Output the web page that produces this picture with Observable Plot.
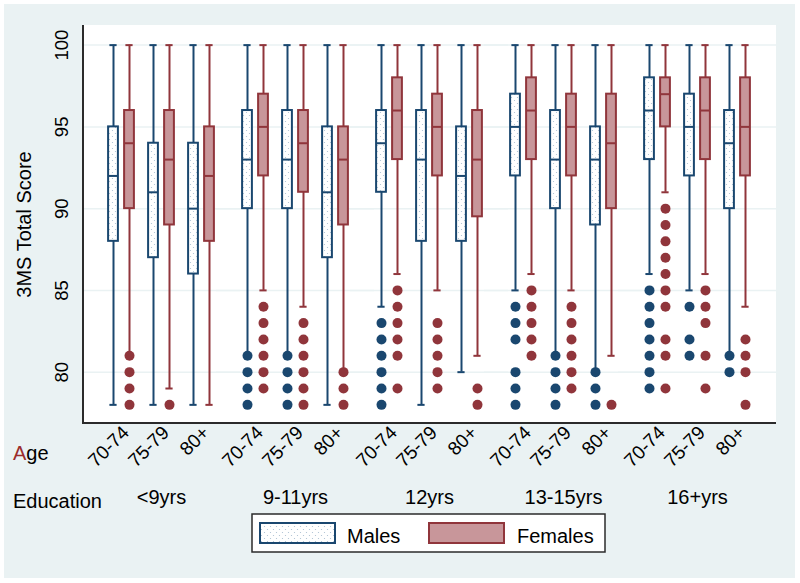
<!DOCTYPE html>
<html><head><meta charset="utf-8">
<script src="https://cdn.jsdelivr.net/npm/d3@7"></script>
<script src="https://cdn.jsdelivr.net/npm/@observablehq/plot@0.6"></script>
<style>
body{margin:0;background:#fff;}
#wrap{position:relative;width:800px;height:583px;background:#fff;overflow:hidden;font-family:"Liberation Sans",Arial,sans-serif;color:#000;}
#bg{position:absolute;left:4px;top:4px;width:791px;height:574px;background:#eaf2f3;}
#plotbg{position:absolute;left:82px;top:25px;width:694px;height:398px;background:#fff;}
#chart{position:absolute;left:0;top:0;}
.axline{position:absolute;background:#2b2b2b;}
.lab{position:absolute;font-size:20px;line-height:20px;white-space:nowrap;}
#legend{position:absolute;left:251px;top:513px;}
</style></head>
<body>
<div id="wrap">
  <div id="bg"></div>
  <div id="plotbg"></div>
  <div id="chart"></div>
  <div class="axline" style="left:81.5px;top:25px;width:2px;height:399.3px"></div>
  <div class="axline" style="left:81.5px;top:422.3px;width:694.5px;height:2px"></div>
  <div class="lab" style="left:13px;top:443px"><span style="color:#9b2d2d">A</span>ge</div>
  <div class="lab" style="left:13px;top:491px">Education</div>
  <svg id="legend" width="356" height="41">
    <defs>
      <pattern id="legDots" width="6" height="6" patternUnits="userSpaceOnUse">
        <rect width="6" height="6" fill="#fff"></rect>
        <circle cx="1.5" cy="1.5" r="0.6" fill="#a9bed1"></circle>
        <circle cx="4.5" cy="4.5" r="0.6" fill="#a9bed1"></circle>
      </pattern>
    </defs>
    <rect x="1" y="1" width="353" height="38" fill="#fff" stroke="#2b2b2b" stroke-width="1.5"></rect>
    <rect x="9" y="10" width="75" height="20" fill="url(#legDots)" stroke="#1a476f" stroke-width="2"></rect>
    <text x="96" y="29.5" font-size="20" font-family="Liberation Sans, Arial, sans-serif">Males</text>
    <rect x="178" y="10" width="75" height="20" fill="#c8969a" stroke="#90353b" stroke-width="2"></rect>
    <text x="266" y="29.5" font-size="20" font-family="Liberation Sans, Arial, sans-serif">Females</text>
  </svg>
</div>
<script>
// ---- categories ----
const education = ["<9yrs", "9-11yrs", "12yrs", "13-15yrs", "16+yrs"];
const ages = ["70-74", "75-79", "80+"];
const yTicks = [80, 85, 90, 95, 100];

// ---- Males (15 groups: education x age) ----
const maleLow    = [78, 78, 78,  81, 81, 78,  84, 78, 80,  85, 81, 80,  86, 85, 81];
const maleQ1     = [88, 87, 86,  90, 90, 87,  91, 88, 88,  92, 90, 89,  93, 92, 90];
const maleMedian = [92, 91, 90,  93, 93, 91,  94, 93, 92,  95, 93, 93,  96, 95, 94];
const maleQ3     = [95, 94, 94,  96, 96, 95,  96, 96, 95,  97, 96, 95,  98, 97, 96];
const maleHigh   = [100,100,100, 100,100,100, 100,100,100, 100,100,100, 100,100,100];
const maleOutliers = [
  [], [], [],
  [81, 80, 79, 78], [81, 80, 79, 78], [],
  [83, 82, 81, 80, 79, 78], [], [],
  [84, 83, 82, 80, 79, 78], [81, 80, 79, 78], [80, 79, 78],
  [85, 84, 83, 82, 81, 80, 79], [84, 82, 81], [81, 80]
];

// ---- Females ----
const femaleLow    = [81, 79, 78,  85, 84, 80,  86, 85, 81,  86, 85, 81,  91, 86, 84];
const femaleQ1     = [90, 89, 88,  92, 91, 89,  93, 92, 89.5, 93, 92, 90, 95, 93, 92];
const femaleMedian = [94, 93, 92,  95, 94, 93,  96, 95, 93,  96, 95, 94,  97, 96, 95];
const femaleQ3     = [96, 96, 95,  97, 96, 95,  98, 97, 96,  98, 97, 97,  98, 98, 98];
const femaleHigh   = [100,100,100, 100,100,100, 100,100,100, 100,100,100, 100,100,100];
const femaleOutliers = [
  [81, 80, 79, 78], [78], [],
  [84, 83, 82, 81, 80, 79], [83, 82, 81, 80, 79, 78], [80, 79, 78],
  [85, 84, 83, 82, 81, 79], [83, 82, 81, 80, 79], [79, 78],
  [85, 84, 83, 82, 81], [84, 83, 82, 81, 80, 79], [78],
  [90, 89, 88, 87, 86, 85, 84, 82, 81, 79], [85, 84, 83, 81, 79], [82, 81, 80, 78]
];

const maleColor = "#1a476f", femaleColor = "#90353b", femaleFill = "#c8969a", maleFillKey = "#fffffe";

function statRows(lo, q1, med, q3, hi) {
  return education.flatMap((edu, i) => ages.map((age, j) => {
    const k = i * 3 + j;
    return {edu, age, lo: lo[k], q1: q1[k], med: med[k], q3: q3[k], hi: hi[k]};
  }));
}
function outlierRows(outs) {
  return education.flatMap((edu, i) => ages.flatMap((age, j) =>
    outs[i * 3 + j].map(value => ({edu, age, value}))));
}

const maleData = statRows(maleLow, maleQ1, maleMedian, maleQ3, maleHigh);
const femaleData = statRows(femaleLow, femaleQ1, femaleMedian, femaleQ3, femaleHigh);
const maleOut = outlierRows(maleOutliers);
const femaleOut = outlierRows(femaleOutliers);

function boxMarks(data, outs, color, fill, side) {
  const off = side * 8;
  const boxIn = side < 0 ? {insetLeft: 7.1, insetRight: 23.1} : {insetLeft: 23.1, insetRight: 7.1};
  const capIn = side < 0 ? {insetLeft: 8.4, insetRight: 24.4} : {insetLeft: 24.4, insetRight: 8.4};
  const sw = 2;
  return [
    Plot.ruleX(data, {fx: "edu", x: "age", y1: "q3", y2: "hi", dx: off, stroke: color, strokeWidth: sw}),
    Plot.ruleX(data, {fx: "edu", x: "age", y1: "lo", y2: "q1", dx: off, stroke: color, strokeWidth: sw}),
    Plot.tickY(data, {fx: "edu", x: "age", y: "hi", ...capIn, stroke: color, strokeWidth: sw}),
    Plot.tickY(data, {fx: "edu", x: "age", y: "lo", ...capIn, stroke: color, strokeWidth: sw}),
    Plot.barY(data, {fx: "edu", x: "age", y1: "q1", y2: "q3", ...boxIn, fill, stroke: color, strokeWidth: sw}),
    Plot.tickY(data, {fx: "edu", x: "age", y: "med", ...boxIn, stroke: color, strokeWidth: sw}),
    Plot.dot(outs, {fx: "edu", x: "age", y: "value", dx: off, r: 5, fill: color, stroke: null})
  ];
}

const chart = Plot.plot({
  width: 800,
  height: 583,
  marginLeft: 82,
  marginRight: 24,
  marginTop: 25,
  marginBottom: 160,
  style: {background: "transparent", fontFamily: "'Liberation Sans', Arial, sans-serif", overflow: "visible", color: "#000"},
  fx: {domain: education, paddingInner: 0, paddingOuter: 0.0847},
  x: {domain: ages, paddingInner: 0, paddingOuter: 0.145},
  y: {domain: [76.86, 101.2]},
  marks: [
    Plot.ruleY(yTicks, {stroke: "#eaf2f3", strokeWidth: 1.5, insetLeft: -12, insetRight: -12}),
    ...boxMarks(maleData, maleOut, maleColor, maleFillKey, -1),
    ...boxMarks(femaleData, femaleOut, femaleColor, femaleFill, 1),
    Plot.axisY({ticks: yTicks, tickSize: 0, tickRotate: -90, tickPadding: 26.5, fontSize: 18.5,
      label: "3MS Total Score", labelAnchor: "center", labelOffset: 77.5, labelArrow: "none"}),
    Plot.axisX({tickSize: 0, tickRotate: -45, tickPadding: 6, fontSize: 19, dx: 4.5, label: null}),
    Plot.axisFx({anchor: "bottom", tickSize: 0, tickPadding: 66, fontSize: 20, label: null})
  ]
});

// axis title slightly larger than the tick labels
chart.querySelectorAll('g[aria-label="y-axis label"]').forEach(g => {
  g.setAttribute("font-size", 20);
  g.querySelectorAll("text").forEach(t => t.setAttribute("font-size", 20));
});

// dotted fill pattern for the male boxes
const ns = "http://www.w3.org/2000/svg";
const defs = document.createElementNS(ns, "defs");
const pat = document.createElementNS(ns, "pattern");
pat.setAttribute("id", "maleDots");
pat.setAttribute("width", "6");
pat.setAttribute("height", "6");
pat.setAttribute("patternUnits", "userSpaceOnUse");
const pr = document.createElementNS(ns, "rect");
pr.setAttribute("width", "6"); pr.setAttribute("height", "6"); pr.setAttribute("fill", "#fff");
pat.appendChild(pr);
[[1.5, 1.5], [4.5, 4.5]].forEach(([cx, cy]) => {
  const c = document.createElementNS(ns, "circle");
  c.setAttribute("cx", cx); c.setAttribute("cy", cy); c.setAttribute("r", "0.6"); c.setAttribute("fill", "#a9bed1");
  pat.appendChild(c);
});
defs.appendChild(pat);
chart.insertBefore(defs, chart.firstChild);
chart.querySelectorAll('[fill="' + maleFillKey + '"]').forEach(el => el.setAttribute("fill", "url(#maleDots)"));

document.getElementById("chart").appendChild(chart);
</script>
</body></html>
